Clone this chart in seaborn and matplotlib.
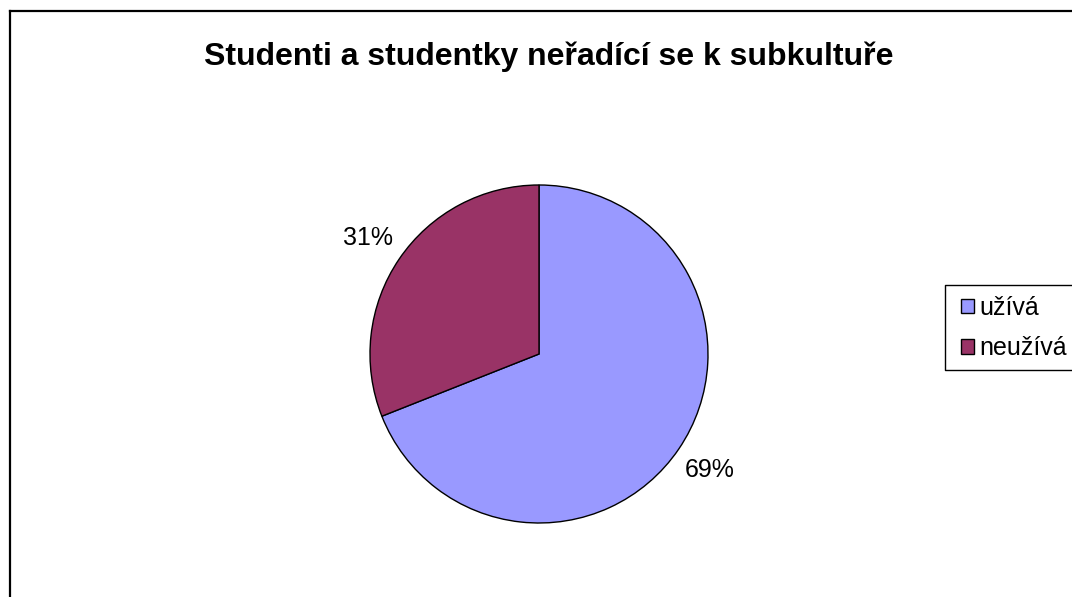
import matplotlib
matplotlib.use("Agg")
import matplotlib.pyplot as plt
from matplotlib.lines import Line2D
from matplotlib.patches import Patch
import seaborn as sns

title = "Studenti a studentky neřadící se k subkultuře"
categories = ["užívá", "neužívá"]
values = [69, 31]
colors = ["#9999FF", "#993366"]

sns.set_theme(style="white")
plt.rcParams["font.family"] = ["Liberation Sans", "DejaVu Sans"]

W, H = 1072, 597
fig = plt.figure(figsize=(W / 100, H / 100), dpi=100)
fig.patch.set_facecolor("white")


def px_line(xs, ys, lw):
    fig.add_artist(Line2D([x / W for x in xs], [1 - y / H for y in ys],
                          transform=fig.transFigure, color="black",
                          linewidth=lw, solid_capstyle="projecting"))


# outer chart frame (right and bottom edges lie outside the image)
px_line([9.5, 1100], [10.5, 10.5], 1.6)
px_line([9.5, 9.5], [10.5, 620], 1.6)

cx, cy, R = 539, 354, 169
lim = 1.4
side = 2 * lim * R
ax = fig.add_axes([(cx - side / 2) / W, (H - cy - side / 2) / H, side / W, side / H])
wedges, texts, autotexts = ax.pie(
    values, colors=colors, startangle=90, counterclock=False,
    autopct=lambda p: f"{p:.0f}%", pctdistance=1.22,
    wedgeprops=dict(edgecolor="black", linewidth=1.0),
    textprops=dict(fontsize=18, color="black"))
ax.set_xlim(-lim, lim)
ax.set_ylim(-lim, lim)
ax.set_aspect("equal")
ax.axis("off")

fig.text(549 / W, 1 - 57 / H, title, ha="center", va="center",
         fontsize=23, fontweight="bold", color="black")

# legend frame (right edge lies outside the image)
px_line([1100, 944.5, 944.5, 1100], [284.5, 284.5, 369.5, 369.5], 1.0)

handles = [Patch(facecolor=c, edgecolor="black", linewidth=1.0) for c in colors]
leg = fig.legend(handles, categories, loc="upper left",
                 bbox_to_anchor=(947.5 / W, 1 - 282 / H),
                 fontsize=18, frameon=False,
                 handlelength=0.52, handleheight=0.52,
                 handletextpad=0.2, labelspacing=0.66, borderpad=0.55,
                 borderaxespad=0)
for t in leg.get_texts():
    t.set_color("black")

fig.savefig("out.png", dpi=100)
